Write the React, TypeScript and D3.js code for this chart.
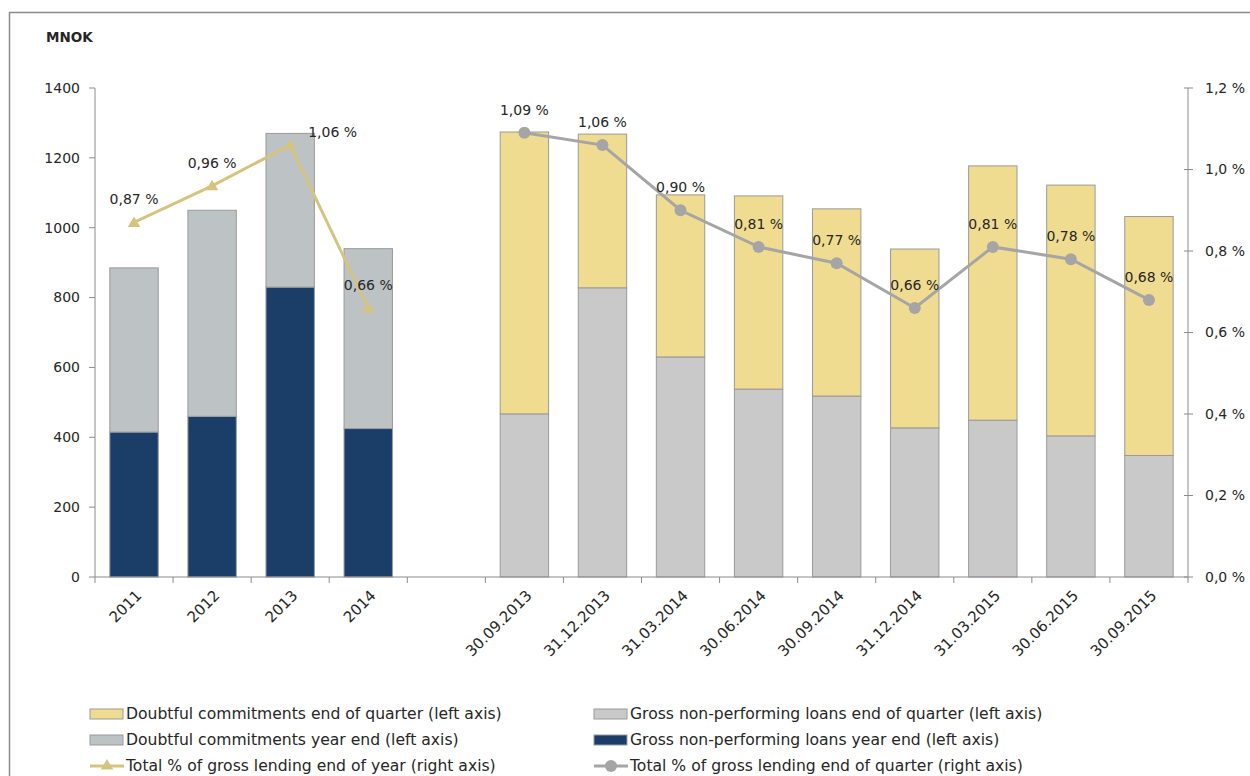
import React from "react";
import * as d3 from "d3";

const yearCats = ["2011", "2012", "2013", "2014"];
const yearNPL = [415, 460, 830, 425];
const yearDoubtful = [470, 590, 440, 515];
const yearPct = [0.87, 0.96, 1.06, 0.66];

const quarterCats = [
  "30.09.2013", "31.12.2013", "31.03.2014", "30.06.2014", "30.09.2014",
  "31.12.2014", "31.03.2015", "30.06.2015", "30.09.2015",
];
const quarterNPL = [467, 828, 630, 538, 518, 427, 449, 404, 348];
const quarterDoubtful = [807, 440, 464, 553, 536, 512, 728, 718, 684];
const quarterPct = [1.09, 1.06, 0.9, 0.81, 0.77, 0.66, 0.81, 0.78, 0.68];

const leftTicks = [0, 200, 400, 600, 800, 1000, 1200, 1400];
const rightTicks = [0, 0.2, 0.4, 0.6, 0.8, 1.0, 1.2];

const C = {
  yellow: "#F0DC90",
  qGrey: "#C9C9C9",
  yGrey: "#BDC2C5",
  navy: "#1B3E69",
  yLine: "#D5C47F",
  qLine: "#A5A5A5",
  stroke: "#9A9A9A",
  axis: "#8C8C8C",
  text: "#262626",
};

const FONT = "'DejaVu Sans', sans-serif";

export default function App() {
  const W = 1250, H = 776;
  const x0 = 95, x1 = 1188, yTop = 88, yBot = 577;
  const slots = [...yearCats, "__gap__", ...quarterCats];
  const x = d3.scaleBand<string>().domain(slots).range([x0, x1]).paddingInner(0.38).paddingOuter(0.19);
  const xStep = d3.scaleBand<string>().domain(slots).range([x0, x1]);
  const yL = d3.scaleLinear().domain([0, 1400]).range([yBot, yTop]);
  const yR = d3.scaleLinear().domain([0, 1.2]).range([yBot, yTop]);
  const bw = x.bandwidth();
  const cx = (c: string) => (x(c) as number) + bw / 2;
  const fmt = (v: number) => d3.format(".2f")(v).replace(".", ",") + " %";
  const fmtR = (v: number) => d3.format(".1f")(v).replace(".", ",") + " %";

  const lineGen = d3.line<[number, number]>().x((d) => d[0]).y((d) => d[1]);
  const yearPts: [number, number][] = yearCats.map((c, i) => [cx(c), yR(yearPct[i])]);
  const qPts: [number, number][] = quarterCats.map((c, i) => [cx(c), yR(quarterPct[i])]);

  const tri = (px: number, py: number, s: number) =>
    `M${px},${py - s}L${px + s * 1.05},${py + s * 0.75}L${px - s * 1.05},${py + s * 0.75}Z`;

  const legend = [
    { label: "Doubtful commitments end of quarter (left axis)", type: "rect", color: C.yellow, col: 0, row: 0 },
    { label: "Gross non-performing loans end of quarter (left axis)", type: "rect", color: C.qGrey, col: 1, row: 0 },
    { label: "Doubtful commitments year end (left axis)", type: "rect", color: C.yGrey, col: 0, row: 1 },
    { label: "Gross non-performing loans year end (left axis)", type: "rect", color: C.navy, col: 1, row: 1 },
    { label: "Total % of gross lending end of year (right axis)", type: "tri", color: C.yLine, col: 0, row: 2 },
    { label: "Total % of gross lending end of quarter (right axis)", type: "circ", color: C.qLine, col: 1, row: 2 },
  ];

  return (
    <svg width={W} height={H} style={{ position: "absolute", left: 0, top: 0 }} fontFamily={FONT}>
      <rect x={0} y={0} width={W} height={H} fill="#fff" />
      <path d={`M9.5,${H}V12.5H${W}`} fill="none" stroke="#8a8a8a" strokeWidth={1.5} />
      <text x={46} y={42} fontSize={13.5} fontWeight="bold" fill={C.text}>MNOK</text>

      {/* Year bars */}
      {yearCats.map((c, i) => (
        <g key={c}>
          <rect x={x(c)} y={yL(yearNPL[i])} width={bw} height={yBot - yL(yearNPL[i])} fill={C.navy} stroke={C.stroke} strokeWidth={1} />
          <rect x={x(c)} y={yL(yearNPL[i] + yearDoubtful[i])} width={bw} height={yL(yearNPL[i]) - yL(yearNPL[i] + yearDoubtful[i])} fill={C.yGrey} stroke={C.stroke} strokeWidth={1} />
        </g>
      ))}
      {/* Quarter bars */}
      {quarterCats.map((c, i) => (
        <g key={c}>
          <rect x={x(c)} y={yL(quarterNPL[i])} width={bw} height={yBot - yL(quarterNPL[i])} fill={C.qGrey} stroke={C.stroke} strokeWidth={1} />
          <rect x={x(c)} y={yL(quarterNPL[i] + quarterDoubtful[i])} width={bw} height={yL(quarterNPL[i]) - yL(quarterNPL[i] + quarterDoubtful[i])} fill={C.yellow} stroke={C.stroke} strokeWidth={1} />
        </g>
      ))}

      {/* Axes */}
      <line x1={x0} y1={yTop} x2={x0} y2={yBot} stroke={C.axis} />
      <line x1={x1} y1={yTop} x2={x1} y2={yBot} stroke={C.axis} />
      <line x1={x0} y1={yBot} x2={x1} y2={yBot} stroke={C.axis} />
      {leftTicks.map((t) => (
        <g key={"l" + t}>
          <line x1={x0 - 6} x2={x0} y1={yL(t)} y2={yL(t)} stroke={C.axis} />
          <text x={x0 - 15} y={yL(t)} dy="0.35em" textAnchor="end" fontSize={14} fill={C.text}>{t}</text>
        </g>
      ))}
      {rightTicks.map((t) => (
        <g key={"r" + t}>
          <line x1={x1 - 4} x2={x1 + 5} y1={yR(t)} y2={yR(t)} stroke={C.axis} />
          <text x={x1 + 17} y={yR(t)} dy="0.35em" textAnchor="start" fontSize={14} fill={C.text}>{fmtR(t)}</text>
        </g>
      ))}
      {slots.map((s) => (
        <line key={"t" + s} x1={xStep(s)} x2={xStep(s)} y1={yBot} y2={yBot + 6} stroke={C.axis} />
      ))}
      <line x1={x1} x2={x1} y1={yBot} y2={yBot + 6} stroke={C.axis} />
      {[...yearCats, ...quarterCats].map((c) => (
        <text key={"x" + c} transform={`translate(${cx(c) + 1},${yBot + 12}) rotate(-45)`} textAnchor="end" dy="0.7em" fontSize={15} fill={C.text}>{c}</text>
      ))}

      {/* Lines */}
      <path d={lineGen(yearPts) || ""} fill="none" stroke={C.yLine} strokeWidth={3} />
      {yearPts.map((p, i) => (
        <path key={"yt" + i} d={tri(p[0], p[1], 6)} fill={C.yLine} />
      ))}
      <path d={lineGen(qPts) || ""} fill="none" stroke={C.qLine} strokeWidth={3} />
      {qPts.map((p, i) => (
        <circle key={"qc" + i} cx={p[0]} cy={p[1]} r={6} fill={C.qLine} />
      ))}

      {/* Labels */}
      {yearPts.map((p, i) => {
        const isPeak = i === 2;
        return (
          <text key={"yl" + i} x={isPeak ? p[0] + 18 : p[0]} y={isPeak ? p[1] - 13 : p[1] - 23} dy="0.35em" textAnchor={isPeak ? "start" : "middle"} fontSize={14} fill={C.text}>{fmt(yearPct[i])}</text>
        );
      })}
      {qPts.map((p, i) => (
        <text key={"ql" + i} x={p[0]} y={p[1] - 23} dy="0.35em" textAnchor="middle" fontSize={14} fill={C.text}>{fmt(quarterPct[i])}</text>
      ))}

      {/* Legend */}
      {legend.map((l) => {
        const lx = l.col === 0 ? 90 : 594;
        const ly = 714 + l.row * 26;
        return (
          <g key={l.label}>
            {l.type === "rect" && (
              <rect x={lx} y={ly - 5} width={33} height={10} fill={l.color} stroke={C.stroke} />
            )}
            {l.type !== "rect" && (
              <line x1={lx} x2={lx + 34} y1={ly} y2={ly} stroke={l.color} strokeWidth={3} />
            )}
            {l.type === "tri" && <path d={tri(lx + 17, ly - 1, 6)} fill={l.color} />}
            {l.type === "circ" && <circle cx={lx + 17} cy={ly} r={6} fill={l.color} />}
            <text x={lx + 36} y={ly} dy="0.35em" fontSize={15.6} fill={C.text}>{l.label}</text>
          </g>
        );
      })}
    </svg>
  );
}
